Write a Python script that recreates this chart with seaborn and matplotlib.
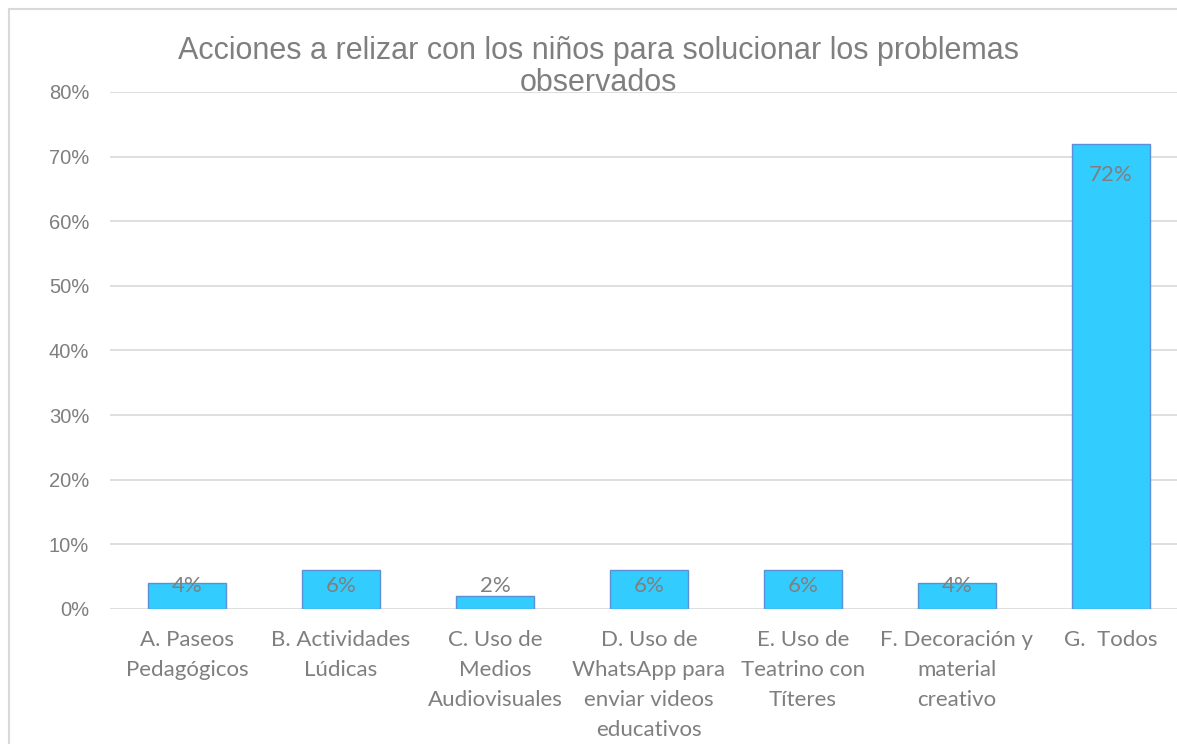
import matplotlib
matplotlib.use('Agg')
import matplotlib.pyplot as plt
import seaborn as sns
import pandas as pd
from matplotlib.patches import Rectangle
from matplotlib.ticker import PercentFormatter

categories = [
    'A. Paseos\nPedagógicos',
    'B. Actividades\nLúdicas',
    'C. Uso de\nMedios\nAudiovisuales',
    'D. Uso de\nWhatsApp para\nenviar videos\neducativos',
    'E. Uso de\nTeatrino con\nTíteres',
    'F. Decoración y\nmaterial\ncreativo',
    'G.  Todos',
]
values = [0.04, 0.06, 0.02, 0.06, 0.06, 0.04, 0.72]
value_labels = ['4%', '6%', '2%', '6%', '6%', '4%', '72%']

title = 'Acciones a relizar con los niños para solucionar los problemas\nobservados'

sns.set_style('white')
plt.rcParams['font.family'] = ['Lato', 'DejaVu Sans']

grey = '#7f7f7f'
df = pd.DataFrame({'accion': categories, 'valor': values})

fig = plt.figure(figsize=(11.77, 7.44), dpi=100)
W, H = 1177, 744
ax = fig.add_axes([110 / W, (H - 609) / H, 1078 / W, (609 - 92) / H])

sns.barplot(data=df, x='accion', y='valor', color='#33CCFF', width=0.506,
            saturation=1, edgecolor='#5B8FD6', linewidth=1.0, ax=ax, zorder=3)

ax.set_ylim(0, 0.8)
ax.set_xlim(-0.5, len(categories) - 0.5)
ax.set_yticks([i / 10 for i in range(9)])
ax.yaxis.set_major_formatter(PercentFormatter(1.0, decimals=0))
ax.yaxis.grid(True, color='#d9d9d9', linewidth=1.2, zorder=0)
ax.set_axisbelow(True)
for s in ax.spines.values():
    s.set_visible(False)
ax.tick_params(axis='both', length=0)
ax.tick_params(axis='y', pad=15, labelcolor=grey, labelsize=14.5)
ax.tick_params(axis='x', pad=15, labelcolor=grey, labelsize=16)
for t in ax.get_yticklabels():
    t.set_family('Liberation Sans')
for t in ax.get_xticklabels():
    t.set_linespacing(1.62)
ax.set_xlabel('')
ax.set_ylabel('')

for i, (v, lab) in enumerate(zip(values, value_labels)):
    y = max(v - 0.048, 0.036)
    ax.text(i, y, lab, ha='center', va='center', color=grey, fontsize=16, zorder=4)

fig.text(598 / W, 1 - 67 / H, title, ha='center', va='center', color=grey,
         fontsize=22, family='Liberation Sans', linespacing=1.05)

frame = Rectangle((9 / W, -0.1), 1.2, 1 - 9 / H + 0.1, transform=fig.transFigure,
                  fill=False, edgecolor='#d9d9d9', linewidth=1.5)
fig.patches.append(frame)

fig.savefig('out.png', dpi=100)
